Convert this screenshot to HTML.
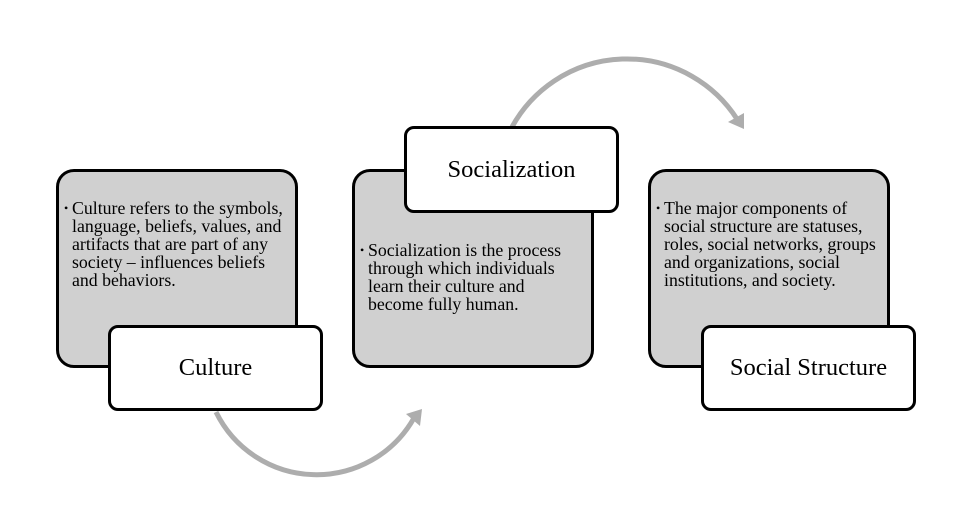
<!DOCTYPE html>
<html><head><style>
body{margin:0;width:973px;height:519px;background:#fff;position:relative;overflow:hidden;font-family:"Liberation Serif",serif;}
.g{position:absolute;background:#d0d0d0;border:3px solid #000;border-radius:18px;box-sizing:border-box;}
.w{position:absolute;background:#fff;border:3px solid #000;border-radius:10px;box-sizing:border-box;display:flex;align-items:center;justify-content:center;font-size:24.5px;color:#000;}
.t{position:absolute;font-size:17.8px;line-height:18px;color:#000;white-space:nowrap;}
.t b{position:absolute;left:-8px;top:0;font-weight:normal;font-size:12px}
svg{position:absolute;left:0;top:0}
</style></head><body>
<svg width="973" height="519">
<path d="M216,412 A112,112 0 0 0 414,418" fill="none" stroke="#adadad" stroke-width="5"/>
<polygon points="422,409 420,426 406,414" fill="#adadad"/>
<path d="M512,127 A131,131 0 0 1 737,119" fill="none" stroke="#adadad" stroke-width="5"/>
<polygon points="744,129 728,122 744,113" fill="#adadad"/>
</svg>
<div class="g" style="left:56px;top:169px;width:242px;height:199px"></div>
<div class="t" style="left:72px;top:199px"><b>•</b>Culture refers to the symbols,<br>language, beliefs, values, and<br>artifacts that are part of any<br>society – influences beliefs<br>and behaviors.</div>
<div class="w" style="left:108px;top:325px;width:215px;height:86px">Culture</div>

<div class="g" style="left:352px;top:169px;width:242px;height:199px"></div>
<div class="t" style="left:368px;top:241px"><b>•</b>Socialization is the process<br>through which individuals<br>learn their culture and<br>become fully human.</div>
<div class="w" style="left:404px;top:126px;width:215px;height:87px">Socialization</div>

<div class="g" style="left:648px;top:169px;width:242px;height:199px"></div>
<div class="t" style="left:664px;top:199px"><b>•</b>The major components of<br>social structure are statuses,<br>roles, social networks, groups<br>and organizations, social<br>institutions, and society.</div>
<div class="w" style="left:701px;top:325px;width:215px;height:86px">Social Structure</div>
</body></html>
